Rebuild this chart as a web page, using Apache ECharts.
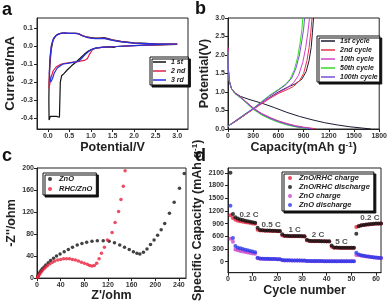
<!DOCTYPE html>
<html><head><meta charset="utf-8">
<script src="https://cdn.jsdelivr.net/npm/echarts@6/dist/echarts.min.js"></script>
<style>html,body{margin:0;padding:0;background:#fff}#c{width:390px;height:303px}</style>
</head><body><div id="c"></div>
<script>
// ---------- Panel a: CV curves [potential V, current mA] ----------
const cv1 = [[3.0,0.009],[2.6,0.006],[2.2,0.004],[1.8,0.0],[1.6,-0.003],[1.52,-0.008],[1.47,-0.005],[1.3,-0.006],[1.15,-0.01],[1.05,-0.017],[0.95,-0.027],[0.85,-0.045],[0.75,-0.068],[0.65,-0.09],[0.55,-0.11],[0.45,-0.133],[0.38,-0.152],[0.32,-0.165],[0.29,-0.2],[0.28,-0.3],[0.27,-0.395],[0.24,-0.405],[0.2,-0.39],[0.12,-0.39],[0.06,-0.39],[0.04,-0.4],[0.03,-0.41],[0.025,-0.3],[0.03,-0.2],[0.05,-0.1],[0.08,-0.02],[0.12,0.03],[0.18,0.055],[0.25,0.067],[0.35,0.072],[0.45,0.07],[0.55,0.07],[0.65,0.07],[0.72,0.068],[0.8,0.058],[0.9,0.05],[1.0,0.046],[1.1,0.044],[1.2,0.044],[1.3,0.046],[1.4,0.041],[1.5,0.034],[1.7,0.025],[2.0,0.017],[2.5,0.012],[3.0,0.01]];
const cv2 = [[3.0,0.01],[2.5,0.006],[2.0,0.002],[1.6,-0.003],[1.3,-0.006],[1.1,-0.012],[1.03,-0.022],[0.97,-0.045],[0.92,-0.07],[0.85,-0.08],[0.78,-0.083],[0.7,-0.087],[0.6,-0.089],[0.5,-0.092],[0.4,-0.096],[0.3,-0.102],[0.2,-0.115],[0.12,-0.14],[0.07,-0.18],[0.04,-0.22],[0.03,-0.235],[0.035,-0.16],[0.055,-0.06],[0.09,0.01],[0.14,0.045],[0.22,0.063],[0.32,0.072],[0.45,0.07],[0.55,0.07],[0.65,0.07],[0.72,0.067],[0.8,0.057],[0.9,0.049],[1.0,0.044],[1.1,0.042],[1.2,0.042],[1.3,0.043],[1.4,0.038],[1.5,0.032],[1.7,0.024],[2.0,0.016],[2.5,0.012],[3.0,0.01]];
const cv3 = [[3.0,0.011],[2.5,0.007],[2.0,0.002],[1.6,-0.003],[1.3,-0.006],[1.1,-0.012],[1.0,-0.02],[0.9,-0.04],[0.8,-0.065],[0.72,-0.083],[0.65,-0.088],[0.55,-0.092],[0.46,-0.096],[0.35,-0.1],[0.22,-0.122],[0.15,-0.15],[0.11,-0.18],[0.07,-0.2],[0.04,-0.21],[0.035,-0.15],[0.05,-0.07],[0.08,0.0],[0.13,0.04],[0.2,0.06],[0.3,0.07],[0.4,0.073],[0.5,0.07],[0.6,0.07],[0.7,0.068],[0.8,0.057],[0.9,0.048],[1.0,0.043],[1.1,0.041],[1.2,0.041],[1.3,0.042],[1.4,0.037],[1.5,0.031],[1.7,0.023],[2.0,0.016],[2.5,0.012],[3.0,0.011]];
const cvNames = ['1 st','2 nd','3 rd'];

// ---------- Panel b: charge/discharge [capacity mAh/g, potential V] ----------
const bNames = ['1st cycle','2nd cycle','10th cycle','50th cycle','100th cycle'];
const bDis1 = [[0,2.1],[5,1.6],[15,1.3],[40,1.1],[80,0.98],[150,0.88],[250,0.8],[400,0.7],[550,0.58],[700,0.45],[850,0.34],[1000,0.25],[1150,0.17],[1300,0.11],[1450,0.06],[1600,0.025],[1700,0.0]];
const bDis2 = [[0,2.2],[5,1.6],[15,1.3],[40,1.1],[80,0.98],[150,0.86],[220,0.73],[300,0.57],[400,0.42],[500,0.31],[600,0.22],[700,0.15],[800,0.09],[900,0.05],[1000,0.02],[1050,0.0]];
const bDis10 = [[0,2.2],[5,1.6],[15,1.3],[40,1.1],[80,0.97],[150,0.85],[220,0.72],[300,0.56],[400,0.41],[500,0.3],[600,0.21],[700,0.14],[800,0.08],[900,0.04],[980,0.015],[1020,0.0]];
const bDis50 = [[0,2.1],[5,1.6],[15,1.3],[40,1.1],[80,0.96],[150,0.84],[220,0.7],[300,0.53],[400,0.38],[500,0.27],[600,0.18],[700,0.11],[800,0.06],[900,0.02],[960,0.0]];
const bDis100 = [[0,2.1],[5,1.6],[15,1.3],[40,1.1],[80,0.97],[150,0.85],[220,0.71],[300,0.55],[400,0.4],[500,0.29],[600,0.2],[700,0.13],[800,0.07],[900,0.03],[1000,0.0]];
const bChg1 = [[0,0.06],[30,0.12],[100,0.22],[200,0.38],[300,0.54],[400,0.7],[500,0.86],[600,1.0],[700,1.12],[800,1.22],[880,1.35],[930,1.55],[965,1.85],[990,2.2],[1005,2.6],[1018,3.0]];
const bChg2 = [[0,0.06],[30,0.12],[100,0.22],[200,0.38],[300,0.53],[400,0.68],[500,0.83],[600,0.96],[700,1.06],[780,1.15],[850,1.3],[900,1.5],[940,1.85],[965,2.2],[985,2.6],[1000,3.0]];
const bChg10 = [[0,0.06],[30,0.12],[100,0.23],[200,0.39],[300,0.54],[400,0.7],[500,0.85],[600,0.98],[700,1.1],[780,1.25],[840,1.45],[890,1.8],[925,2.2],[950,2.6],[970,3.0]];
const bChg50 = [[0,0.07],[30,0.13],[100,0.24],[200,0.4],[300,0.56],[400,0.74],[500,0.92],[600,1.07],[680,1.2],[740,1.35],[790,1.6],[830,1.95],[860,2.35],[880,2.7],[890,3.0]];
const bChg100 = [[0,0.07],[30,0.13],[100,0.24],[200,0.4],[300,0.55],[400,0.73],[500,0.9],[600,1.05],[690,1.2],[760,1.38],[810,1.65],[850,2.0],[880,2.4],[900,2.7],[912,3.0]];

// ---------- Panel c: Nyquist [Z' ohm, -Z'' ohm] ----------
const cNames = ['ZnO','RHC/ZnO'];
const znoRe = [1,2,3,5,7,9,12,15,19,23,28,33,39,46,53,60,68,76,84,93,102,112,122,131,140,148,156,163,169,174,180,186,192,198,204,210,216,224,232,241,249];
const znoIm = [2,5,8,11,14,17,20,24,28,32,36,40,44,48,52,56,60,63,65,67,68,68,67,64,60,56,52,48,45,44,47,53,61,69,78,88,99,118,138,163,190];
const rhcRe = [1,2,3,5,7,9,12,15,18,22,26,30,35,40,45,50,55,60,65,70,75,80,85,89,93,97,101,105,109,114,119,127,132,138,142,146,149];
const rhcIm = [1,3,5,8,11,14,17,20,23,26,29,31,33,34,35,35,35,34,33,31,29,27,25,23,22,23,27,35,45,56,69,83,101,121,143,167,195];

// ---------- Panel d: rate performance [cycle, mAh/g] ----------
const dNames = ['ZnO/RHC charge','ZnO/RHC discharge','ZnO charge','ZnO discharge'];
const rhcCharge = [1100,1030,990,970,955,945,935,925,915,905,895,755,740,735,732,730,728,726,724,722,720,620,605,603,602,601,600,600,599,598,597,500,488,486,485,484,483,482,481,480,479,355,330,328,327,326,325,325,324,323,322,820,845,855,865,872,880,885,890,895,898,900];
const rhcDischarge = [2100,1130,1050,1020,1000,985,970,955,945,935,920,800,750,745,740,738,735,733,730,728,725,650,615,612,610,610,608,607,606,605,604,520,495,492,490,488,487,486,485,484,483,380,335,333,332,331,330,330,329,328,328,660,840,860,870,880,885,890,895,900,905,905];
const znoCharge = [540,470,290,270,255,240,228,215,205,195,185,80,70,68,66,64,63,62,61,60,59,35,31,30,29,28,27,27,26,25,25,15,14,13,13,12,12,12,11,11,11,11,11,10,10,10,10,10,10,10,10,160,150,140,132,124,116,108,102,96,90,85];
const znoDischarge = [1320,560,370,330,315,300,285,270,255,240,225,95,75,72,70,68,66,64,62,60,58,40,35,33,32,31,30,29,28,27,26,18,16,15,15,14,14,14,13,13,13,13,13,12,12,12,12,12,12,12,12,210,170,150,140,130,120,112,105,100,95,90];
const rateText = ['0.2 C','0.5 C','1 C','2 C','5 C','0.2 C'];
const ratePos = [[8.5,1100],[17.5,880],[27,760],[36.5,640],[46,470],[57.5,1030]];

const FF = '"Liberation Sans", Arial, sans-serif';
const cycles = rhcCharge.map((_, i) => i + 1);
const pair = (xs, ys) => xs.map((x, i) => [x, ys[i]]);
const plain = v => String(v);

function axis(gi, o) {
  return Object.assign({
    gridIndex: gi, type: 'value', splitLine: {show: false},
    axisLine: {show: true, onZero: false, lineStyle: {color: '#222', width: 1}},
    axisTick: {show: true, inside: false, length: 3, lineStyle: {color: '#222'}},
    nameLocation: 'middle',
    nameTextStyle: {fontSize: 12.5, fontWeight: 'bold', color: '#222', fontFamily: FF,
      rich: {sup: {fontSize: 8, fontWeight: 'bold', color: '#222', verticalAlign: 'top', padding: [0, 0, 6, 0]}}}
  }, o);
}
function lbl(extra) {
  return Object.assign({fontSize: 7, color: '#333', fontWeight: 'bold', fontFamily: FF, showMinLabel: false, showMaxLabel: false, formatter: plain}, extra);
}

const legendBase = {
  orient: 'vertical', backgroundColor: '#fff', borderColor: '#111', borderWidth: 1,
  shadowColor: '#111', shadowOffsetX: 2, shadowOffsetY: 2, shadowBlur: 0,
  itemGap: 1, selectedMode: false,
  textStyle: {fontSize: 7.5, lineHeight: 8, fontStyle: 'italic', fontWeight: 'bold', color: '#222', fontFamily: FF}
};

const series = [];
const cvCols = ['#111111', '#e0204e', '#2233dd'];
[cv1, cv2, cv3].forEach((d, i) => series.push({
  type: 'line', name: cvNames[i], xAxisIndex: 0, yAxisIndex: 0, data: d, symbol: 'none',
  lineStyle: {color: cvCols[i], width: 1.2}, itemStyle: {color: cvCols[i]}
}));
const bCols = ['#1b1b30', '#e8304a', '#d040c8', '#33dd22', '#7a50d8'];
const bDis = [bDis1, bDis2, bDis10, bDis50, bDis100];
const bChg = [bChg1, bChg2, bChg10, bChg50, bChg100];
bNames.forEach((n, i) => {
  [bDis[i], bChg[i]].forEach(d => series.push({
    type: 'line', name: n, xAxisIndex: 1, yAxisIndex: 1, data: d, symbol: 'none',
    lineStyle: {color: bCols[i], width: 1}, itemStyle: {color: bCols[i]}
  }));
});
series.push({type: 'scatter', name: 'ZnO', xAxisIndex: 2, yAxisIndex: 2, data: pair(znoRe, znoIm), symbolSize: 3.5, itemStyle: {color: '#111'}});
series.push({type: 'scatter', name: 'RHC/ZnO', xAxisIndex: 2, yAxisIndex: 2, data: pair(rhcRe, rhcIm), symbolSize: 3.5, itemStyle: {color: '#e8203c'}});
const dCols = ['#e8203c', '#111111', '#cc44cc', '#2a3ae8'];
[rhcCharge, rhcDischarge, znoCharge, znoDischarge].forEach((v, i) => series.push({
  type: 'scatter', name: dNames[i], xAxisIndex: 3, yAxisIndex: 3, data: pair(cycles, v), symbolSize: 4,
  itemStyle: {color: dCols[i]}
}));
series.push({
  type: 'scatter', name: 'rates', xAxisIndex: 3, yAxisIndex: 3, symbolSize: 0, silent: true,
  data: ratePos.map((p, i) => ({value: p, name: rateText[i]})),
  label: {show: true, position: 'inside', formatter: '{b}', fontSize: 8, fontWeight: 'bold', color: '#222', fontFamily: FF}
});

const titleStyle = {fontSize: 18, fontWeight: 'bold', color: '#111', fontFamily: FF};
const option = {
  animation: false,
  textStyle: {fontFamily: FF},
  title: [
    {text: 'a', left: 2, top: 1, padding: 0, textStyle: titleStyle},
    {text: 'b', left: 195, top: 0, padding: 0, textStyle: titleStyle},
    {text: 'c', left: 2, top: 147, padding: 0, textStyle: titleStyle},
    {text: 'd', left: 195, top: 147, padding: 0, textStyle: titleStyle}
  ],
  grid: [
    {left: 37, top: 18, width: 151, height: 111, show: true, borderColor: '#222', borderWidth: 1},
    {left: 228, top: 18, width: 152, height: 111, show: true, borderColor: '#222', borderWidth: 1},
    {left: 37, top: 168, width: 149, height: 112, show: true, borderColor: '#222', borderWidth: 1},
    {left: 228, top: 168, width: 153, height: 114, show: true, borderColor: '#222', borderWidth: 1}
  ],
  xAxis: [
    axis(0, {min: -0.25, max: 3.25, minInterval: 0.5, maxInterval: 0.5, name: 'Potential/V', nameGap: 11,
      axisLabel: lbl({margin: 4, formatter: v => v.toFixed(1)})}),
    axis(1, {min: 0, max: 1800, interval: 300, name: 'Capacity(mAh g{sup|-1})', nameGap: 11,
      axisLabel: lbl({margin: 4, showMinLabel: true, showMaxLabel: true})}),
    axis(2, {min: 0, max: 252, interval: 40, name: "Z'/ohm", nameGap: 8,
      axisLabel: lbl({margin: 3, showMinLabel: true})}),
    axis(3, {min: 0, max: 62, interval: 10, name: 'Cycle number', nameGap: 7,
      axisLabel: lbl({margin: 3, showMinLabel: true})})
  ],
  yAxis: [
    axis(0, {min: -0.46, max: 0.155, minInterval: 0.1, maxInterval: 0.1, name: 'Current/mA', nameGap: 17,
      nameTextStyle: {fontSize: 13.5, fontWeight: 'bold', color: '#222', fontFamily: FF},
      axisLabel: lbl({margin: 4, formatter: v => v.toFixed(1)})}),
    axis(1, {min: 0, max: 3.0, interval: 0.5, name: 'Potential(V)', nameGap: 15,
      axisLabel: lbl({margin: 3, showMinLabel: true, showMaxLabel: true, formatter: v => v.toFixed(1)})}),
    axis(2, {min: 0, max: 200, interval: 40, name: "-Z''/ohm", nameGap: 15,
      axisLabel: lbl({margin: 3, showMinLabel: true, showMaxLabel: true})}),
    axis(3, {min: -260, max: 2215, minInterval: 300, maxInterval: 300, name: 'Specific Capacity (mAh g{sup|-1})', nameGap: 19,
      axisLabel: lbl({margin: 4})})
  ],
  legend: [
    Object.assign({}, legendBase, {left: 150, top: 57, data: cvNames, icon: 'rect', itemWidth: 13, itemHeight: 1.5, padding: [1, 3, 1, 3], itemGap: 1,
      textStyle: Object.assign({}, legendBase.textStyle, {fontSize: 7})}),
    Object.assign({}, legendBase, {left: 317, top: 36, data: bNames, icon: 'rect', itemWidth: 14, itemHeight: 1.5, padding: [1, 2, 1, 4], itemGap: 1,
      textStyle: Object.assign({}, legendBase.textStyle, {fontSize: 7})}),
    Object.assign({}, legendBase, {left: 43, top: 173, data: cNames, itemWidth: 8, itemHeight: 4, itemGap: 2, padding: [2, 4, 2, 5], icon: 'circle'}),
    Object.assign({}, legendBase, {left: 282, top: 172, data: dNames, itemWidth: 8, itemHeight: 4, itemGap: 1, padding: [2, 4, 2, 6], icon: 'circle'})
  ],
  series: series
};
const chart = echarts.init(document.getElementById('c'), null, {renderer: 'canvas'});
chart.setOption(option);
</script></body></html>
